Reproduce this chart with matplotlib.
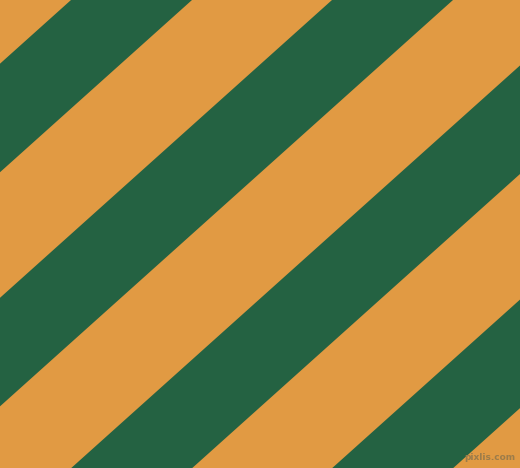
import numpy as np
import matplotlib
matplotlib.use("Agg")
import matplotlib.pyplot as plt

green_starts = [71, 332, 593, 854]
green_width = 121
slope = 0.897          # dy/dx of the stripe edges
width, height = 520, 468

orange = "#e19a43"
green = "#246242"

fig = plt.figure(figsize=(5.2, 4.68), dpi=100)
ax = fig.add_axes([0, 0, 1, 1])
ax.set_xlim(0, width)
ax.set_ylim(height, 0)
ax.set_facecolor(orange)
ax.axis("off")
fig.patch.set_facecolor(orange)

shift = height / slope
for c0 in green_starts:
    c1 = c0 + green_width
    xs = [c0, c1, c1 - shift, c0 - shift]
    ys = [0, 0, height, height]
    ax.fill(xs, ys, color=green, linewidth=0, antialiased=True)

# watermark
ax.text(515, 457, "pixlis.com", fontsize=6.5, color="#9c7c4a",
        ha="right", va="center", family="DejaVu Sans", fontweight="bold")

fig.savefig("out.png", dpi=100, facecolor=orange)
